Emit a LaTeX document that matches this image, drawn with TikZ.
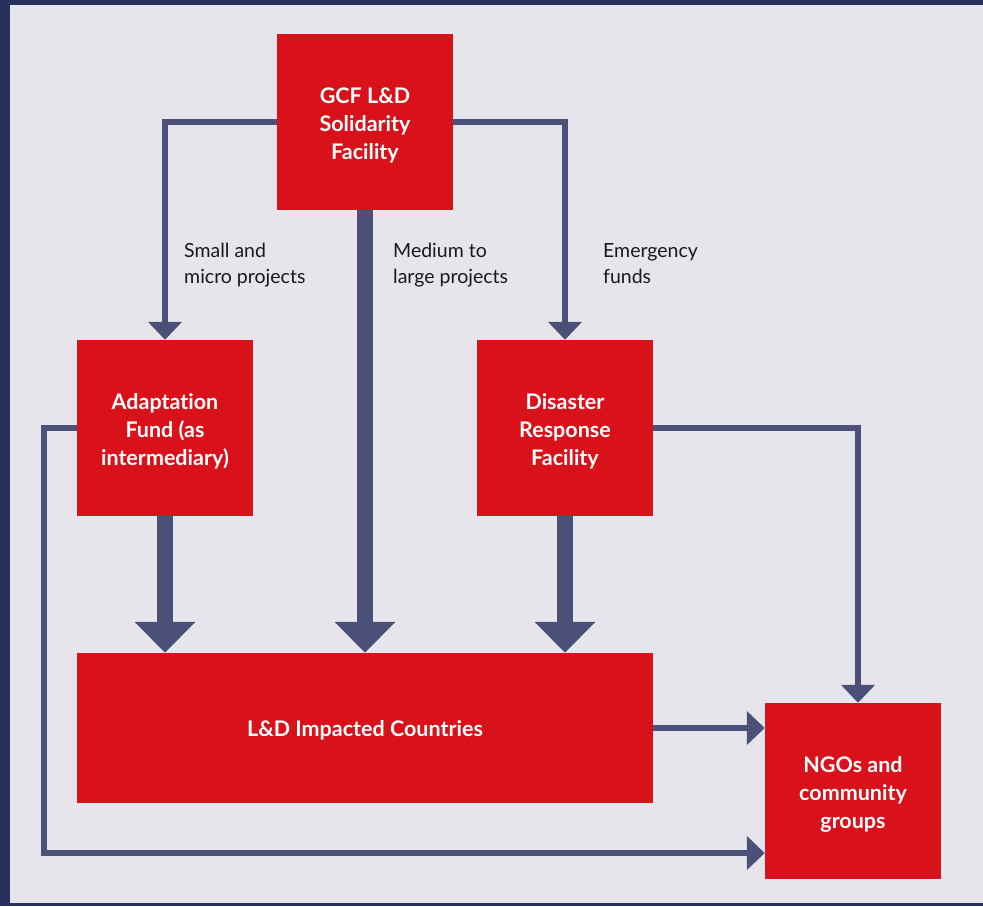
\documentclass[tikz,border=0pt]{standalone}
\usepackage{fontspec}
\setmainfont{Lato}[Ligatures=CommonOff]
\usetikzlibrary{arrows.meta}
\definecolor{bgdark}{HTML}{25305F}
\definecolor{panel}{HTML}{E6E5EC}
\definecolor{boxred}{HTML}{D8111A}
\definecolor{linec}{HTML}{4A5078}
\tikzset{
  redbox/.style={fill=boxred, draw=none, inner sep=0pt,
    minimum width=176pt, minimum height=176pt},
  boxtxt/.style={text=white, align=center, inner sep=0pt,
    font=\fontsize{21.5}{28}\selectfont\bfseries},
  thinflow/.style={draw=linec, line width=6.5pt, line join=miter,
    -{Triangle[width=33pt,length=18pt]}},
  thickflow/.style={draw=linec, line width=16pt,
    -{Triangle[width=59pt,length=31pt]}},
  lbl/.style={align=left, anchor=north west, inner sep=0pt,
    font=\fontsize{19.5}{26}\selectfont, text=black!90}
}
\begin{document}
\begin{tikzpicture}[x=1pt,y=-1pt]
\useasboundingbox (0,0) rectangle (983,906);
\fill[bgdark] (0,0) rectangle (983,906);
\fill[panel] (10,5) rectangle (983,903);

\node[redbox] (gcf) at (365,122) {};
\node[redbox] (ada) at (165,428) {};
\node[redbox] (dis) at (565,428) {};
\node[redbox, minimum width=576pt, minimum height=150pt] (ld) at (365,728) {};
\node[redbox] (ngo) at (853,791) {};

\node[boxtxt] (gcft) at ([yshift=-3pt]gcf.center) {GCF L\&D\\Solidarity\\Facility};
\node[boxtxt] (adat) at ([yshift=-3pt]ada.center) {Adaptation\\Fund (as\\intermediary)};
\node[boxtxt] (dist) at ([yshift=-3pt]dis.center) {Disaster\\Response\\Facility};
\node[boxtxt] (ldt) at ([yshift=-2pt]ld.center) {L\&D Impacted Countries};
\node[boxtxt] (ngot) at ([yshift=-3pt]ngo.center) {NGOs and\\community\\groups};

\coordinate (ngotop) at ([xshift=5pt]ngo.north);
\coordinate (lcorner) at (44,853);

\draw[thinflow] (gcf.west) -| (ada.north);
\draw[thinflow] (gcf.east) -| (dis.north);
\draw[thickflow] (gcf.south) -- (ld.north);
\draw[thickflow] (ada.south) -- (ada.south |- ld.north);
\draw[thickflow] (dis.south) -- (dis.south |- ld.north);
\draw[thinflow] (dis.east) -| (ngotop);
\draw[thinflow] (ld.east) -- (ngo.west |- ld.east);
\draw[thinflow] (ada.west) -| (lcorner) -- (ngo.west |- lcorner);

\node[lbl] (l1) at (184,243) {Small and\\micro projects};
\node[lbl] (l2) at (393,243) {Medium to\\large projects};
\node[lbl] (l3) at (603,243) {Emergency\\funds};
\end{tikzpicture}
\end{document}
